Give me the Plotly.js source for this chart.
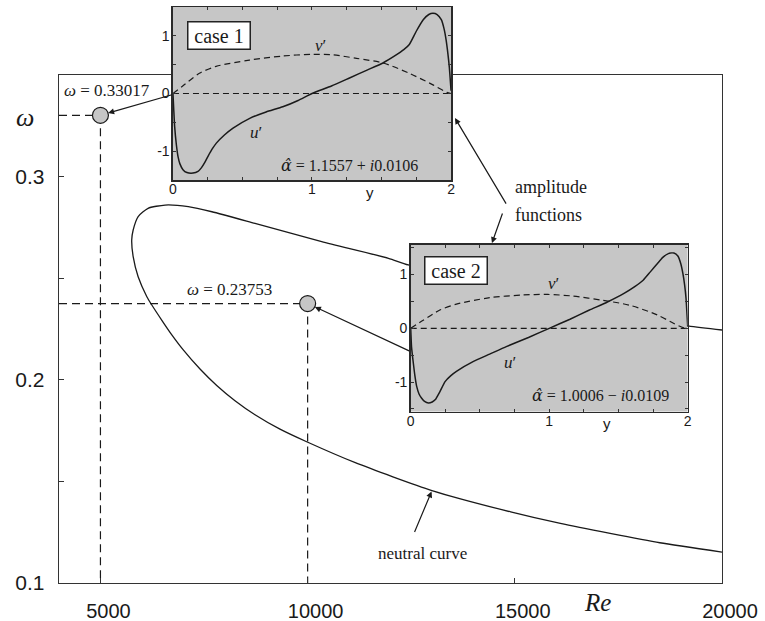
<!DOCTYPE html>
<html><head><meta charset="utf-8">
<script src="https://cdn.plot.ly/plotly-3.0.1.min.js"></script>
<style>html,body{margin:0;padding:0;background:#fff}</style>
</head><body><div id="chart" style="width:765px;height:621px"></div>
<script>
// ---- main chart data: neutral curve (Re, omega) ----
const neutralRe = [20000, 18500, 17300, 16100, 14900, 13000, 11150, 9977, 9333, 8730, 8247, 7806, 7403, 6999, 6727, 6478, 6240, 6120, 5910, 5790, 5755, 5790, 5910, 6150, 6560, 7120, 7690, 8730, 10340, 11950, 12430, 16000, 19180, 20000];
const neutralOmega = [0.1152, 0.1198, 0.1244, 0.1293, 0.1350, 0.1455, 0.1592, 0.1695, 0.1757, 0.1828, 0.1897, 0.1972, 0.2053, 0.2147, 0.2220, 0.2294, 0.2368, 0.2409, 0.2507, 0.2606, 0.2688, 0.2737, 0.2803, 0.2844, 0.2860, 0.2852, 0.2827, 0.2770, 0.2680, 0.2598, 0.2565, 0.2400, 0.2265, 0.2245];

// ---- selected cases ----
const caseRe = [5000, 10000];
const caseOmega = [0.33017, 0.23753];
const caseOmegaLabels = ['<i>ω</i> = 0.33017', '<i>ω</i> = 0.23753'];
const caseNames = ['case 1', 'case 2'];
const caseAlpha = ['<span style="font-family:DejaVu Serif"><i>α̂</i></span> = 1.1557 + <i>i</i>0.0106',
                   '<span style="font-family:DejaVu Serif"><i>α̂</i></span> = 1.0006 − <i>i</i>0.0109'];

// ---- axes ----
const reRange = [4000, 20000];
const omegaRange = [0.1, 0.35];
const reTicks = [5000, 10000, 15000, 20000];
const reTickText = ['5000', '10000', '15000', '20000'];
const omegaTicks = [0.1, 0.2, 0.3];
const omegaMinorTicks = [0.15, 0.25];
const insetXRange = [0, 2];
const insetYRange1 = [-1.5, 1.5];
const insetYRange2 = [-1.55, 1.55];
const insetXTicks = [0, 1, 2];
const insetYTicks = [-1, 0, 1];
const insetYTickText = ['-1', '0', '1'];

// ---- case 1 amplitude functions ----
const case1UY = [0, 0.005, 0.012, 0.024, 0.036, 0.05, 0.072, 0.1, 0.144, 0.18, 0.204, 0.23, 0.252, 0.28, 0.312, 0.37, 0.432, 0.552, 0.67, 0.79, 0.9, 1.0, 1.14, 1.27, 1.4, 1.51, 1.6, 1.66, 1.70, 1.75, 1.80, 1.84, 1.87, 1.90, 1.93, 1.95, 1.965, 1.978, 1.988, 1.995, 2.0];
const case1U  = [0, -0.25, -0.57, -0.88, -1.09, -1.22, -1.32, -1.37, -1.38, -1.35, -1.29, -1.19, -1.09, -0.97, -0.86, -0.72, -0.60, -0.43, -0.32, -0.23, -0.12, 0, 0.13, 0.27, 0.41, 0.53, 0.66, 0.76, 0.85, 1.08, 1.28, 1.37, 1.39, 1.37, 1.28, 1.12, 0.92, 0.68, 0.45, 0.22, 0.05];
const case1VY = [0, 0.07, 0.19, 0.31, 0.55, 0.79, 1.0, 1.15, 1.32, 1.51, 1.70, 1.87, 1.97, 2.0];
const case1V  = [0, 0.13, 0.35, 0.47, 0.58, 0.65, 0.68, 0.67, 0.61, 0.53, 0.35, 0.15, 0.02, 0];

// ---- case 2 amplitude functions ----
const case2UY = [0, 0.006, 0.019, 0.03, 0.043, 0.06, 0.079, 0.1, 0.128, 0.155, 0.176, 0.21, 0.248, 0.29, 0.33, 0.45, 0.57, 0.69, 0.85, 1.0, 1.15, 1.29, 1.42, 1.54, 1.62, 1.68, 1.73, 1.78, 1.82, 1.86, 1.90, 1.93, 1.95, 1.965, 1.978, 1.988, 1.995, 2.0];
const case2U  = [0, -0.35, -0.65, -0.88, -1.08, -1.22, -1.30, -1.36, -1.39, -1.37, -1.33, -1.18, -0.99, -0.88, -0.80, -0.62, -0.48, -0.34, -0.17, 0, 0.17, 0.34, 0.49, 0.65, 0.78, 0.90, 1.05, 1.20, 1.32, 1.39, 1.40, 1.34, 1.20, 1.02, 0.80, 0.55, 0.25, 0.03];
const case2VY = [0, 0.09, 0.21, 0.33, 0.57, 0.81, 0.99, 1.17, 1.39, 1.58, 1.78, 1.90, 1.97, 2.0];
const case2V  = [0, 0.15, 0.34, 0.45, 0.57, 0.62, 0.63, 0.60, 0.52, 0.43, 0.25, 0.09, 0.01, 0];

const SERIF = 'Liberation Serif, Times New Roman, serif';
const SANS = 'Liberation Sans, Arial, sans-serif';
const INK = '#1a1a1a';

// guide dashed lines built from case points
const guideX = [], guideY = [];
caseRe.forEach((re, i) => {
  guideX.push(reRange[0], re, null, re, re, null);
  guideY.push(caseOmega[i], caseOmega[i], null, caseOmega[i], omegaRange[0], null);
});

const traces = [
  {x: neutralRe, y: neutralOmega, mode: 'lines', line: {color: INK, width: 1.3, shape: 'spline', smoothing: 0.6}, xaxis: 'x', yaxis: 'y', hoverinfo: 'skip'},
  {x: guideX, y: guideY, mode: 'lines', line: {color: INK, width: 1.2, dash: '8px,5px'}, xaxis: 'x', yaxis: 'y', hoverinfo: 'skip'},
  {x: caseRe, y: caseOmega, mode: 'markers', marker: {size: 16, color: '#c6c6c6', line: {color: INK, width: 1.2}}, xaxis: 'x', yaxis: 'y', cliponaxis: false},
  {x: case1VY, y: case1V, mode: 'lines', line: {color: INK, width: 1.2, dash: '6px,4px', shape: 'spline', smoothing: 0.8}, xaxis: 'x2', yaxis: 'y2'},
  {x: case1UY, y: case1U, mode: 'lines', line: {color: INK, width: 1.5, shape: 'spline', smoothing: 0.5}, xaxis: 'x2', yaxis: 'y2'},
  {x: case2VY, y: case2V, mode: 'lines', line: {color: INK, width: 1.2, dash: '6px,4px', shape: 'spline', smoothing: 0.8}, xaxis: 'x3', yaxis: 'y3'},
  {x: case2UY, y: case2U, mode: 'lines', line: {color: INK, width: 1.5, shape: 'spline', smoothing: 0.5}, xaxis: 'x3', yaxis: 'y3'}
];

function insetX(domain, anchor) {
  return {domain: domain, anchor: anchor, range: insetXRange, tickvals: insetXTicks, ticks: 'inside', ticklen: 3,
    tickcolor: '#333', showline: true, mirror: 'allticks', linecolor: '#2a2a2a', linewidth: 1.5, showgrid: false, zeroline: false,
    minor: {dtick: 0.25, ticks: 'inside', ticklen: 3, tickcolor: '#333', showgrid: false},
    tickfont: {family: SANS, size: 14, color: INK}, ticklabelstandoff: -4, fixedrange: true};
}
function insetY(domain, anchor, range) {
  return {domain: domain, anchor: anchor, range: range, tickvals: insetYTicks, ticktext: insetYTickText, ticks: 'inside', ticklen: 3,
    tickcolor: '#333', showline: true, mirror: 'allticks', linecolor: '#2a2a2a', linewidth: 1.5, showgrid: false, zeroline: false,
    minor: {dtick: 0.5, ticks: 'inside', ticklen: 3, tickcolor: '#333', showgrid: false},
    tickfont: {family: SANS, size: 14, color: INK}, ticklabelstandoff: -1, fixedrange: true};
}

const insets = [
  {xa: 'x2', ya: 'y2', yr: insetYRange1, vLab: [1.06, 0.84], uLab: [0.60, -0.68], alpha: [1.27, -1.24], box: [0.33, 1.0]},
  {xa: 'x3', ya: 'y3', yr: insetYRange2, vLab: [1.03, 0.84], uLab: [0.72, -0.63], alpha: [1.37, -1.25], box: [0.33, 1.07]}
];

const shapes = [];
const annotations = [];
insets.forEach((ins, i) => {
  shapes.push({type: 'rect', xref: ins.xa, yref: ins.ya, x0: insetXRange[0], x1: insetXRange[1], y0: ins.yr[0], y1: ins.yr[1],
    fillcolor: '#c6c6c6', line: {width: 0}, layer: 'below'});
  shapes.push({type: 'line', xref: ins.xa, yref: ins.ya, x0: insetXRange[0], x1: insetXRange[1], y0: 0, y1: 0,
    line: {color: INK, width: 1.2, dash: '6px,4px'}, layer: 'below'});
  annotations.push({xref: ins.xa, yref: ins.ya, x: ins.box[0], y: ins.box[1], text: caseNames[i], showarrow: false,
    font: {family: SERIF, size: 20, color: INK}, bgcolor: '#fff', bordercolor: '#222', borderwidth: 1.5, borderpad: 0, width: 61, height: 26});
  annotations.push({xref: ins.xa, yref: ins.ya, x: ins.vLab[0], y: ins.vLab[1], text: '<i>v</i>′', showarrow: false, font: {family: SERIF, size: 17, color: INK}});
  annotations.push({xref: ins.xa, yref: ins.ya, x: ins.uLab[0], y: ins.uLab[1], text: '<i>u</i>′', showarrow: false, font: {family: SERIF, size: 17, color: INK}});
  annotations.push({xref: ins.xa, yref: ins.ya, x: ins.alpha[0], y: ins.alpha[1], text: caseAlpha[i], showarrow: false, font: {family: SERIF, size: 16, color: INK}});
  annotations.push({xref: ins.xa, yref: ins.ya, x: 1.42, y: ins.yr[0], yshift: -12, text: 'y', showarrow: false, font: {family: SANS, size: 15, color: INK}});
});

// omega labels near the points
annotations.push({xref: 'x', yref: 'y', x: 4075, y: 0.3426, xanchor: 'left', text: caseOmegaLabels[0], showarrow: false, font: {family: SERIF, size: 17, color: INK}});
annotations.push({xref: 'x', yref: 'y', x: 7040, y: 0.2442, xanchor: 'left', text: caseOmegaLabels[1], showarrow: false, font: {family: SERIF, size: 17, color: INK}});

// arrows from insets to points
const arrowStyle = {showarrow: true, arrowhead: 2, arrowsize: 1, arrowwidth: 1.2, arrowcolor: INK, text: ''};
annotations.push(Object.assign({xref: 'x', yref: 'y', x: caseRe[0], y: caseOmega[0], ax: 73, ay: -21, standoff: 8}, arrowStyle));
annotations.push(Object.assign({xref: 'x', yref: 'y', x: caseRe[1], y: caseOmega[1], ax: 103, ay: 48, standoff: 8}, arrowStyle));
// amplitude functions
annotations.push(Object.assign({xref: 'x', yref: 'y', x: 13556, y: 0.3288, ax: 52, ay: 87}, arrowStyle));
annotations.push(Object.assign({xref: 'x', yref: 'y', x: 14449, y: 0.2673, ax: 11, ay: -31}, arrowStyle));
annotations.push({xref: 'x', yref: 'y', x: 14956, y: 0.2949, xanchor: 'left', text: 'amplitude', showarrow: false, font: {family: SERIF, size: 18, color: INK}});
annotations.push({xref: 'x', yref: 'y', x: 14956, y: 0.2811, xanchor: 'left', text: 'functions', showarrow: false, font: {family: SERIF, size: 18, color: INK}});
// neutral curve
annotations.push(Object.assign({xref: 'x', yref: 'y', x: 13000, y: 0.1455, ax: -18, ay: 43, standoff: 1}, arrowStyle));
annotations.push({xref: 'x', yref: 'y', x: 12784, y: 0.1143, text: 'neutral curve', showarrow: false, font: {family: SERIF, size: 17, color: INK}});
// axis titles
annotations.push({xref: 'paper', yref: 'paper', x: -0.0513, y: 0.806, xanchor: 'center', yanchor: 'middle', text: '<i>ω</i>', showarrow: false, font: {family: SERIF, size: 26, color: INK}});
annotations.push({xref: 'paper', yref: 'paper', x: 0.8115, y: -0.034, xanchor: 'center', yanchor: 'middle', text: '<i>Re</i>', showarrow: false, font: {family: SERIF, size: 25, color: INK}});

const layout = {
  width: 765, height: 621,
  margin: {l: 59, r: 43, t: 5, b: 38},
  paper_bgcolor: '#fff', plot_bgcolor: 'rgba(0,0,0,0)',
  showlegend: false,
  xaxis: {domain: [0, 1], anchor: 'y', range: reRange, tickvals: reTicks, ticktext: reTickText, ticks: 'inside', ticklen: 5, tickcolor: '#333',
    showline: true, mirror: true, linecolor: '#333', linewidth: 1.3, showgrid: false, zeroline: false,
    tickfont: {family: SANS, size: 20, color: INK}, ticklabelshift: 8, ticklabelstandoff: 10, fixedrange: true},
  yaxis: {domain: [0, 0.8789], anchor: 'x', range: omegaRange, tickvals: omegaTicks, ticks: 'inside', ticklen: 5, tickcolor: '#333',
    showline: true, mirror: true, linecolor: '#333', linewidth: 1.3, showgrid: false, zeroline: false,
    minor: {tickvals: omegaMinorTicks, ticks: 'inside', ticklen: 5, tickcolor: '#333', showgrid: false},
    tickfont: {family: SANS, size: 21, color: INK}, ticklabelstandoff: 9, fixedrange: true},
  xaxis2: insetX([0.1719, 0.5913], 'y2'),
  yaxis2: insetY([0.6972, 0.9965], 'x2', insetYRange1),
  xaxis3: insetX([0.5305, 0.9483], 'y3'),
  yaxis3: insetY([0.2964, 0.5848], 'x3', insetYRange2),
  shapes: shapes,
  annotations: annotations
};

Plotly.newPlot('chart', traces, layout, {displayModeBar: false, staticPlot: true});
</script>
</body></html>
